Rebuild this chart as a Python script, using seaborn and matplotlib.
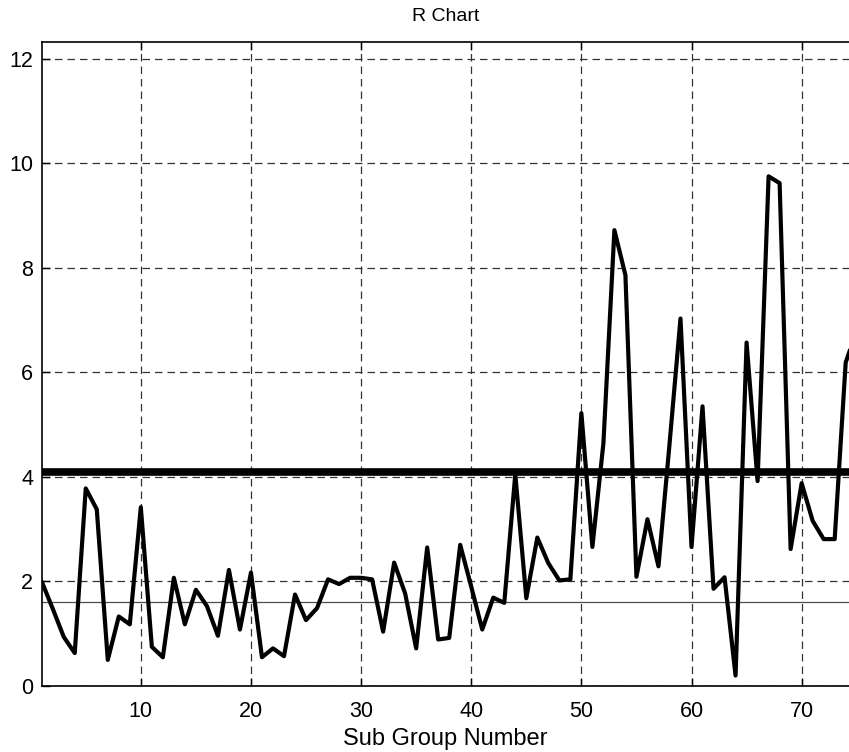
import matplotlib
matplotlib.use("Agg")
import matplotlib.pyplot as plt
import seaborn as sns
import pandas as pd

# ---- data ----
subgroup = list(range(1, 76))
r_values = [
    2.00, 1.48, 0.94, 0.63, 3.78, 3.38, 0.50, 1.33, 1.18, 3.42,   # 1-10
    0.75, 0.55, 2.07, 1.18, 1.84, 1.53, 0.96, 2.22, 1.08, 2.17,   # 11-20
    0.55, 0.72, 0.57, 1.75, 1.26, 1.49, 2.04, 1.95, 2.07, 2.07,   # 21-30
    2.04, 1.04, 2.36, 1.77, 0.72, 2.65, 0.89, 0.92, 2.70, 1.90,   # 31-40
    1.08, 1.69, 1.59, 4.05, 1.68, 2.84, 2.35, 2.02, 2.04, 5.22,   # 41-50
    2.66, 4.64, 8.72, 7.86, 2.09, 3.19, 2.29, 4.62, 7.03, 2.66,   # 51-60
    5.35, 1.86, 2.08, 0.20, 6.57, 3.92, 9.75, 9.62, 2.62, 3.88,   # 61-70
    3.16, 2.81, 2.81, 6.19, 6.80,                                 # 71-75
]
upper_line = 4.10    # thick horizontal line
center_line = 1.61   # thin horizontal line
x_ticks = [10, 20, 30, 40, 50, 60, 70]
y_ticks = [0, 2, 4, 6, 8, 10, 12]
title = "R Chart"
x_label = "Sub Group Number"

df = pd.DataFrame({"Sub Group Number": subgroup, "R": r_values})

sns.set_theme(style="white")
plt.rcParams["font.family"] = ["Liberation Sans", "DejaVu Sans"]

fig = plt.figure(figsize=(8.49, 7.52), dpi=100)
ax = fig.add_axes([41.7 / 849, 66 / 752, 1 - 41.7 / 849, 644 / 752])

sns.lineplot(data=df, x="Sub Group Number", y="R", ax=ax, color="black",
             linewidth=3.0, zorder=3, clip_on=True)
ax.axhline(upper_line, color="black", linewidth=5.5, zorder=4)
ax.axhline(center_line, color="0.3", linewidth=0.9, zorder=2)

ax.set_xlim(1, 74.3)
ax.set_ylim(0, 12.32)
ax.set_xticks(x_ticks)
ax.set_yticks(y_ticks)
ax.grid(True, color="0.2", linestyle=(0, (6, 4)), linewidth=0.9)
ax.set_axisbelow(True)

ax.tick_params(axis="both", direction="in", length=6, width=1, color="black",
               labelsize=15.5, labelcolor="black", top=True, bottom=True,
               left=True, right=False, pad=6)
ax.tick_params(axis="x", pad=11)
for side in ["left", "bottom", "top"]:
    ax.spines[side].set_color("black")
    ax.spines[side].set_linewidth(1.2)
ax.spines["right"].set_visible(False)

ax.set_title(title, fontsize=14, color="black", pad=15)
ax.set_xlabel(x_label, fontsize=17, color="black", labelpad=4)
ax.set_ylabel("")

fig.savefig("out.png", dpi=100)
